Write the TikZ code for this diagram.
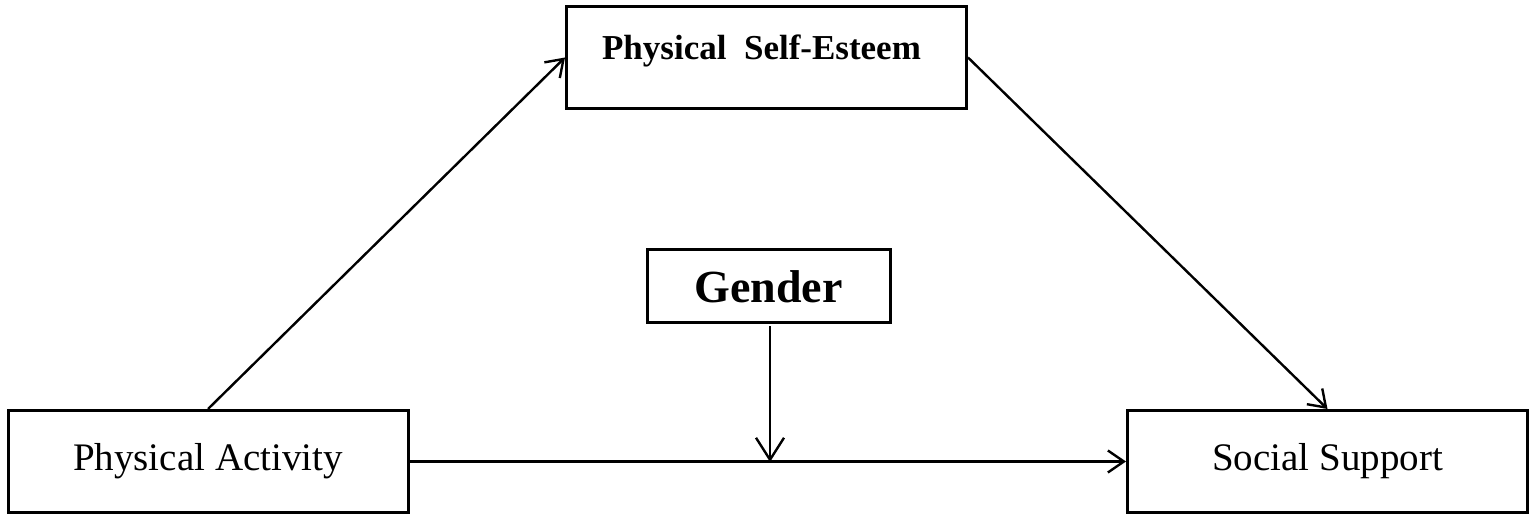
\documentclass[tikz,border=0pt]{standalone}
\usepackage{fontspec}
\setmainfont{Liberation Serif}
\usetikzlibrary{arrows.meta}
\tikzset{
  box/.style={draw, line width=3pt, inner sep=0pt, minimum width=400pt, minimum height=102pt},
  conn/.style={line width=2.4pt, -{Straight Barb[length=16pt,width=22pt,line width=2.4pt]}},
  big/.style={line width=2.4pt, -{Straight Barb[length=22pt,width=28pt,line width=2.4pt]}}
}
\begin{document}
\begin{tikzpicture}[x=1pt,y=-1pt]
\useasboundingbox (0,0) rectangle (1535,521);
\fill[white] (0,0) rectangle (1535,521);
\node[box, label={[yshift=7pt,xshift=-5pt,font=\fontsize{35}{40}\selectfont\bfseries]center:Physical\ \ Self-Esteem}] (pse) at (766.5,57.5) {};
\node[box, minimum width=243pt, minimum height=73pt, font=\fontsize{46}{52}\selectfont\bfseries] (g) at (768.5,286.5) {Gender};
\node[box, font=\fontsize{39}{46}\selectfont] (pa) at (208,461.5) {Physical Activity};
\node[box, font=\fontsize{39}{46}\selectfont] (ss) at (1327.5,461.5) {Social Support};
\coordinate (m) at (770,462);
\draw[conn] (pa.north) -- (pse.west);
\draw[conn] (pse.east) -- (ss.north);
\draw[conn] (pa.east) -- (ss.west);
\draw[big] (g.south -| m) ++(0,2) -- (m);
\end{tikzpicture}
\end{document}
